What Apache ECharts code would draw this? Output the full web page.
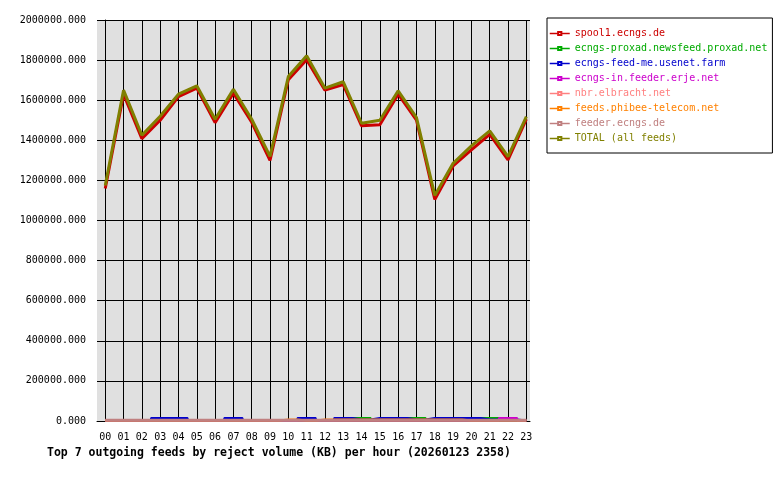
<!DOCTYPE html>
<html><head><meta charset="utf-8">
<script src="https://cdn.jsdelivr.net/npm/echarts@6/dist/echarts.min.js"></script>
<style>html,body{margin:0;padding:0;background:#fff}#c{width:780px;height:480px}</style>
</head><body><div id="c"></div>
<script>
const hours = [0,1,2,3,4,5,6,7,8,9,10,11,12,13,14,15,16,17,18,19,20,21,22,23];
const hourLabels = ['00','01','02','03','04','05','06','07','08','09','10','11','12','13','14','15','16','17','18','19','20','21','22','23'];

const feedNames = ['spool1.ecngs.de','ecngs-proxad.newsfeed.proxad.net','ecngs-feed-me.usenet.farm','ecngs-in.feeder.erje.net','nbr.elbracht.net','feeds.phibee-telecom.net','feeder.ecngs.de','TOTAL (all feeds)'];
const feedColors = ['#cc0000','#00aa00','#0000cc','#cc00cc','#ff8080','#ff8000','#c08080','#808000'];

const spool1   = [1160000,1630000,1408000,1500000,1618000,1660000,1488000,1635000,1490000,1300000,1702000,1802000,1650000,1678000,1472000,1478000,1630000,1500000,1105000,1272000,1352000,1430000,1302000,1505000];
const proxad   = [4000,4000,4000,4000,4000,4000,4000,4000,4000,4000,4000,4000,4000,4000,15000,4000,4000,15000,4000,4000,4000,15000,4000,4000];
const usenetFarm = [3000,3000,3000,15000,15000,3000,3000,15000,3000,3000,3000,15000,4000,15000,8000,15000,15000,8000,15000,15000,15000,8000,8000,2000];
const erje     = [2000,2000,2000,2000,2000,2000,2000,2000,2000,2000,2000,2000,2000,2000,2000,2000,2000,2000,2000,2000,2000,2000,15000,2000];
const elbracht = [2000,2000,2000,2000,2000,2000,2000,2000,2000,2000,2000,2000,2000,2000,2000,2000,2000,2000,2000,2000,2000,2000,2000,2000];
const phibee   = [2000,2000,2000,2000,2000,2000,2000,2000,2000,2000,8000,2000,8000,8000,8000,8000,8000,8000,8000,8000,2000,2000,2000,2000];
const feederEcngs = [3500,3500,3500,3500,3500,3500,3500,3500,3500,3500,3500,3500,3500,3500,3500,3500,3500,3500,3500,3500,3500,3500,3500,3500];
const total    = [1175000,1650000,1425000,1520000,1630000,1672000,1505000,1655000,1505000,1320000,1718000,1822000,1660000,1692000,1485000,1500000,1647000,1513000,1125000,1285000,1372000,1447000,1318000,1518000];

const seriesValues = [spool1, proxad, usenetFarm, erje, elbracht, phibee, feederEcngs, total];
const FONT = 'DejaVu Sans Mono';

const chart = echarts.init(document.getElementById('c'), null, {renderer:'canvas'});
chart.setOption({
  animation: false,
  backgroundColor: '#fff',
  title: {
    text: 'Top 7 outgoing feeds by reject volume (KB) per hour (20260123 2358)',
    left: 42, top: 442,
    textStyle: {fontFamily: FONT, fontSize: 11.5, fontWeight: 'bold', color: '#000'}
  },
  legend: {
    orient: 'vertical', left: 547, top: 18,
    itemWidth: 20, itemHeight: 4, itemGap: 2,
    padding: [9, 5, 8, 2],
    borderColor: '#000', borderWidth: 1, borderRadius: 0, backgroundColor: '#fff',
    selectedMode: false,
    lineStyle: {width: 1.5},
    textStyle: {fontFamily: FONT, fontSize: 10, lineHeight: 13},
    data: feedNames.map((n, i) => ({name: n, textStyle: {color: feedColors[i]}}))
  },
  grid: {left: 97, top: 20, right: 250, bottom: 59, show: true, backgroundColor: '#e0e0e0', borderWidth: 0},
  xAxis: {
    type: 'value', min: -0.45, max: 23.2,
    axisLine: {show: true, lineStyle: {color: '#000', width: 1}},
    axisTick: {show: false, customValues: hours},
    axisLabel: {customValues: hours, formatter: v => hourLabels[hours.indexOf(v)], fontFamily: FONT, fontSize: 10, color: '#000', margin: 11},
    splitLine: {show: true, lineStyle: {color: '#000', width: 1}}
  },
  yAxis: {
    type: 'value', min: 0, max: 2000000, interval: 200000,
    axisLine: {show: true, lineStyle: {color: '#000', width: 1}},
    axisTick: {show: true, length: 8, lineStyle: {color: '#000'}},
    axisLabel: {formatter: v => v.toFixed(3), fontFamily: FONT, fontSize: 10, color: '#000', margin: 11},
    splitLine: {show: true, lineStyle: {color: '#000', width: 1}}
  },
  series: feedNames.map((n, i) => {
    const main = (i === 0 || i === 7);
    return {
      name: n, type: 'line',
      data: hours.map((h, k) => [h, seriesValues[i][k]]),
      showSymbol: false, symbol: 'emptyRect', symbolSize: 4,
      step: main ? false : 'middle',
      color: feedColors[i],
      lineStyle: {color: feedColors[i], width: main ? 3 : (i === 6 ? 3 : 2)},
      clip: false,
      silent: true
    };
  })
});
</script></body></html>
